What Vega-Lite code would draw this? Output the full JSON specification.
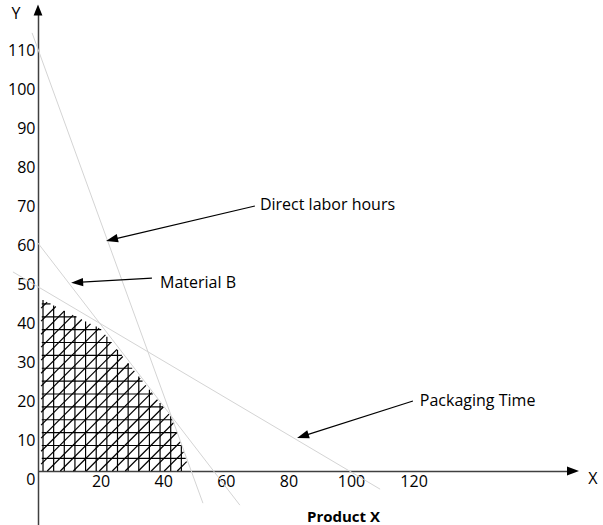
{
  "$schema": "https://vega.github.io/schema/vega-lite/v6.json",
  "width": 535,
  "height": 515,
  "autosize": {"type": "none"},
  "padding": {"left": 38, "top": 10, "right": 30, "bottom": 0},
  "background": "white",
  "config": {
    "view": {"stroke": null},
    "text": {"font": "Open Sans", "fontSize": 16, "color": "#000000"}
  },
  "datasets": {
    "constraints": [
      {"name": "Direct labor hours", "x": -1.9, "y": 114.4, "x2": 52.7, "y2": -6.2},
      {"name": "Material B", "x": -0.3, "y": 60.8, "x2": 64.5, "y2": -6.7},
      {"name": "Packaging Time", "x": -8.0, "y": 53.1, "x2": 109.3, "y2": -2.6}
    ],
    "arrows": [
      {"label": "Direct labor hours", "x": 69.3, "y": 70.0, "x2": 23.6, "y2": 61.4},
      {"label": "Material B", "x": 36.4, "y": 51.5, "x2": 12.5, "y2": 50.4},
      {"label": "Packaging Time", "x": 119.8, "y": 20.0, "x2": 84.6, "y2": 11.0}
    ],
    "labels": [
      {"text": "Direct labor hours", "x": 70.9, "y": 70.3},
      {"text": "Material B", "x": 39.0, "y": 50.3},
      {"text": "Packaging Time", "x": 122.0, "y": 20.0}
    ],
    "axisWords": [
      {"text": "Y", "x": -7.0, "y": 119.2, "weight": "normal"},
      {"text": "X", "x": 177.3, "y": 0.0, "weight": "normal"},
      {"text": "Product X", "x": 97.6, "y": -9.7, "weight": "bold"}
    ],
    "axisArrows": [
      {"axis": "X", "x": 170.93, "y": 2.05},
      {"axis": "Y", "x": 0.0, "y": 120.26}
    ],
    "hatch": [
      {"x": 1.2, "y": 5.3, "x2": 47.2, "y2": 5.3},
      {"x": 1.2, "y": 8.6, "x2": 45.8, "y2": 8.6},
      {"x": 1.2, "y": 11.9, "x2": 44.5, "y2": 11.9},
      {"x": 1.2, "y": 15.2, "x2": 43.1, "y2": 15.2},
      {"x": 1.2, "y": 18.5, "x2": 40.0, "y2": 18.5},
      {"x": 1.2, "y": 21.8, "x2": 36.7, "y2": 21.8},
      {"x": 1.2, "y": 25.1, "x2": 33.4, "y2": 25.1},
      {"x": 1.2, "y": 28.4, "x2": 30.1, "y2": 28.4},
      {"x": 1.2, "y": 31.7, "x2": 26.8, "y2": 31.7},
      {"x": 1.2, "y": 35.0, "x2": 23.5, "y2": 35.0},
      {"x": 1.2, "y": 38.3, "x2": 20.2, "y2": 38.3},
      {"x": 1.2, "y": 41.6, "x2": 12.3, "y2": 41.6},
      {"x": 1.2, "y": 44.9, "x2": 4.0, "y2": 44.9},
      {"x": 1.6, "y": 2.05, "x2": 1.6, "y2": 45.9},
      {"x": 5.0, "y": 2.05, "x2": 5.0, "y2": 44.5},
      {"x": 8.4, "y": 2.05, "x2": 8.4, "y2": 43.1},
      {"x": 11.8, "y": 2.05, "x2": 11.8, "y2": 41.8},
      {"x": 15.2, "y": 2.05, "x2": 15.2, "y2": 40.4},
      {"x": 18.6, "y": 2.05, "x2": 18.6, "y2": 39.1},
      {"x": 22.0, "y": 2.05, "x2": 22.0, "y2": 36.5},
      {"x": 25.4, "y": 2.05, "x2": 25.4, "y2": 33.1},
      {"x": 28.8, "y": 2.05, "x2": 28.8, "y2": 29.7},
      {"x": 32.2, "y": 2.05, "x2": 32.2, "y2": 26.3},
      {"x": 35.6, "y": 2.05, "x2": 35.6, "y2": 22.9},
      {"x": 39.0, "y": 2.05, "x2": 39.0, "y2": 19.5},
      {"x": 42.4, "y": 2.05, "x2": 42.4, "y2": 16.1},
      {"x": 45.8, "y": 2.05, "x2": 45.8, "y2": 8.7},
      {"x": 1.0, "y": 43.8, "x2": 2.91, "y2": 45.34},
      {"x": 1.0, "y": 40.47, "x2": 5.68, "y2": 44.23},
      {"x": 1.0, "y": 37.13, "x2": 8.46, "y2": 43.12},
      {"x": 1.0, "y": 33.8, "x2": 11.23, "y2": 42.01},
      {"x": 1.0, "y": 30.47, "x2": 14.0, "y2": 40.91},
      {"x": 1.0, "y": 27.13, "x2": 16.77, "y2": 39.79},
      {"x": 1.0, "y": 23.8, "x2": 19.54, "y2": 38.68},
      {"x": 1.0, "y": 20.47, "x2": 21.54, "y2": 36.96},
      {"x": 1.0, "y": 17.13, "x2": 23.39, "y2": 35.11},
      {"x": 1.0, "y": 13.8, "x2": 25.24, "y2": 33.26},
      {"x": 1.0, "y": 10.47, "x2": 27.09, "y2": 31.41},
      {"x": 1.0, "y": 7.13, "x2": 28.94, "y2": 29.56},
      {"x": 1.0, "y": 3.8, "x2": 30.79, "y2": 27.71},
      {"x": 2.97, "y": 2.05, "x2": 32.64, "y2": 25.86},
      {"x": 7.13, "y": 2.05, "x2": 34.49, "y2": 24.01},
      {"x": 11.28, "y": 2.05, "x2": 36.34, "y2": 22.16},
      {"x": 15.42, "y": 2.05, "x2": 38.18, "y2": 20.32},
      {"x": 19.59, "y": 2.05, "x2": 40.04, "y2": 18.46},
      {"x": 23.74, "y": 2.05, "x2": 41.88, "y2": 16.62},
      {"x": 27.88, "y": 2.05, "x2": 43.41, "y2": 14.5},
      {"x": 32.05, "y": 2.05, "x2": 44.43, "y2": 12.0},
      {"x": 36.19, "y": 2.05, "x2": 45.46, "y2": 9.49},
      {"x": 40.34, "y": 2.05, "x2": 46.49, "y2": 6.97},
      {"x": 44.51, "y": 2.05, "x2": 47.51, "y2": 4.47}
    ]
  },
  "encoding": {
    "x": {
      "field": "x",
      "type": "quantitative",
      "scale": {"domain": [0, 170.93], "nice": false, "zero": false},
      "axis": {
        "title": null,
        "values": [20, 40, 60, 80, 100, 120],
        "offset": -54,
        "ticks": false,
        "grid": false,
        "domainColor": "#404040",
        "domainWidth": 1.5,
        "labelFont": "Open Sans",
        "labelFontSize": 16,
        "labelColor": "#000000",
        "labelPadding": 2,
        "labelFlush": false,
        "labelOverlap": false
      }
    },
    "y": {
      "field": "y",
      "type": "quantitative",
      "scale": {"domain": [-11.79, 120.26], "nice": false, "zero": false},
      "axis": {
        "title": null,
        "values": [0, 10, 20, 30, 40, 50, 60, 70, 80, 90, 100, 110],
        "ticks": false,
        "grid": false,
        "domainColor": "#404040",
        "domainWidth": 1.5,
        "labelFont": "Open Sans",
        "labelFontSize": 16,
        "labelColor": "#000000",
        "labelPadding": 3,
        "labelFlush": false,
        "labelOverlap": false,
        "labelBaseline": "middle"
      }
    }
  },
  "layer": [
    {
      "data": {"name": "hatch"},
      "mark": {"type": "rule", "color": "#000000", "strokeWidth": 1.2},
      "encoding": {"x2": {"field": "x2"}, "y2": {"field": "y2"}}
    },
    {
      "data": {"name": "constraints"},
      "mark": {"type": "rule", "color": "#d4d4d4", "strokeWidth": 1},
      "encoding": {"x2": {"field": "x2"}, "y2": {"field": "y2"}}
    },
    {
      "data": {"name": "arrows"},
      "mark": {"type": "rule", "color": "#000000", "strokeWidth": 1.2},
      "encoding": {"x2": {"field": "x2"}, "y2": {"field": "y2"}}
    },
    {
      "data": {"name": "arrows"},
      "transform": [{"filter": "datum.label === 'Direct labor hours'"}],
      "mark": {"type": "point", "shape": "M0,-1L0.7,1L-0.7,1Z", "size": 144, "filled": true, "opacity": 1, "color": "#000000", "angle": 256.8},
      "encoding": {"x": {"field": "x2", "type": "quantitative"}, "y": {"field": "y2", "type": "quantitative"}}
    },
    {
      "data": {"name": "arrows"},
      "transform": [{"filter": "datum.label === 'Material B'"}],
      "mark": {"type": "point", "shape": "M0,-1L0.7,1L-0.7,1Z", "size": 144, "filled": true, "opacity": 1, "color": "#000000", "angle": 266.5},
      "encoding": {"x": {"field": "x2", "type": "quantitative"}, "y": {"field": "y2", "type": "quantitative"}}
    },
    {
      "data": {"name": "arrows"},
      "transform": [{"filter": "datum.label === 'Packaging Time'"}],
      "mark": {"type": "point", "shape": "M0,-1L0.7,1L-0.7,1Z", "size": 144, "filled": true, "opacity": 1, "color": "#000000", "angle": 252.3},
      "encoding": {"x": {"field": "x2", "type": "quantitative"}, "y": {"field": "y2", "type": "quantitative"}}
    },
    {
      "data": {"name": "labels"},
      "mark": {"type": "text", "align": "left", "baseline": "middle", "font": "Open Sans", "fontSize": 16, "color": "#000000"},
      "encoding": {"text": {"field": "text"}}
    },
    {
      "data": {"name": "axisWords"},
      "transform": [{"filter": "datum.weight === 'normal'"}],
      "mark": {"type": "text", "align": "center", "baseline": "middle", "font": "Open Sans", "fontSize": 16, "color": "#000000"},
      "encoding": {"text": {"field": "text"}}
    },
    {
      "data": {"name": "axisWords"},
      "transform": [{"filter": "datum.weight === 'bold'"}],
      "mark": {"type": "text", "align": "center", "baseline": "middle", "font": "Open Sans", "fontSize": 15, "fontWeight": "bold", "color": "#000000"},
      "encoding": {"text": {"field": "text"}}
    },
    {
      "data": {"name": "axisArrows"},
      "transform": [{"filter": "datum.axis === 'X'"}],
      "mark": {"type": "point", "shape": "M-1,-0.75L1,0L-1,0.75Z", "size": 144, "filled": true, "opacity": 1, "color": "#000000"},
      "encoding": {}
    },
    {
      "data": {"name": "axisArrows"},
      "transform": [{"filter": "datum.axis === 'Y'"}],
      "mark": {"type": "point", "shape": "M0,-1L0.8,1L-0.8,1Z", "size": 121, "filled": true, "opacity": 1, "color": "#000000"},
      "encoding": {}
    }
  ]
}
